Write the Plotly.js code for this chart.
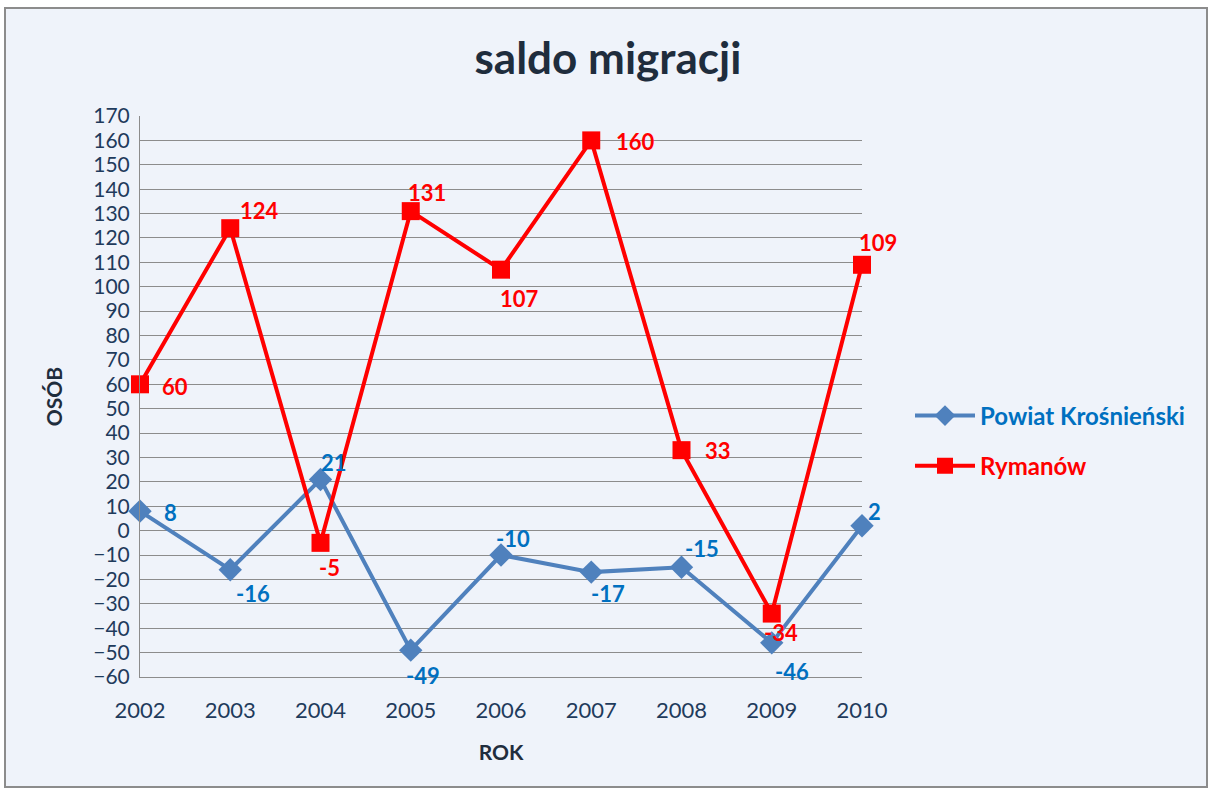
<!DOCTYPE html>
<html><head><meta charset="utf-8">
<script src="https://cdn.plot.ly/plotly-3.0.1.min.js"></script>
<style>html,body{margin:0;padding:0;background:#fff}#c{width:1211px;height:789px}</style>
</head><body><div id="c"></div>
<script>
var years = [2002, 2003, 2004, 2005, 2006, 2007, 2008, 2009, 2010];
var powiat = [8, -16, 21, -49, -10, -17, -15, -46, 2];
var rymanow = [60, 124, -5, 131, 107, 160, 33, -34, 109];

// label offsets in pixels (style only): [dx, dy(down positive)]
var powiatOff = [[30,1],[23,24],[13,-17],[12,25],[12,-17],[17,21],[20,-19],[20,29],[12,-14]];
var rymanowOff = [[35,2],[29,-18],[9,25],[16,-19],[18,29],[44,1],[36,0],[9,19],[16,-22]];

var F = 'Lato, "Open Sans", sans-serif';
var L = 140, R = 862, T = 116, B = 677;
function px2x(p){return (p-L)/(R-L);}
function py2y(p){return (B-p)/(B-T);}

var traces = [
 {x: years, y: powiat, name: 'Powiat Krośnieński', mode: 'lines+markers', legendgroup: 'a',
  line: {color: '#4F81BD', width: 4}, marker: {symbol: 'diamond', size: 18, color: '#4F81BD'}, cliponaxis: false},
 {x: years, y: rymanow, name: 'Rymanów', mode: 'lines+markers', legendgroup: 'b',
  line: {color: '#FF0000', width: 4}, marker: {symbol: 'square', size: 18, color: '#FF0000'}, cliponaxis: false}
];

var annotations = [];
function addLabels(vals, offs, color){
  vals.forEach(function(v, i){
    annotations.push({x: years[i], y: v, xref: 'x', yref: 'y', text: String(v), showarrow: false,
      xshift: offs[i][0], yshift: -offs[i][1], xanchor: 'center', yanchor: 'middle',
      font: {family: F, size: 22, color: color, weight: 700}});
  });
}
addLabels(powiat, powiatOff, '#0070C0');
addLabels(rymanow, rymanowOff, '#FF0000');

var layout = {
 width: 1211, height: 789,
 margin: {l: L, r: 1211 - R, t: T, b: 789 - B},
 paper_bgcolor: '#FFFFFF', plot_bgcolor: 'rgba(0,0,0,0)',
 font: {family: F, color: '#1F2D3D'},
 title: {text: '<b>saldo migracji</b>', font: {family: F, size: 44, color: '#1F2D3D'},
   xref: 'container', x: 0.502, xanchor: 'center', yref: 'container', y: 0.926, yanchor: 'middle'},
 xaxis: {range: [2002, 2010], tickvals: years, ticktext: years.map(String), showgrid: false,
   zeroline: false, showline: true, linecolor: '#8C8C8C', linewidth: 1, ticks: '',
   tickfont: {family: F, size: 22, color: '#1F3B5C'}, ticklabelstandoff: 14,
   title: {text: '<b>ROK</b>', font: {family: F, size: 21, color: '#1F2D3D'}, standoff: 22}},
 yaxis: {range: [-60, 170], dtick: 10, tick0: 0, showgrid: true, gridcolor: '#8C8C8C', gridwidth: 1,
   zeroline: false, showline: true, linecolor: '#8C8C8C', linewidth: 1, ticks: '',
   tickfont: {family: F, size: 21, color: '#1F3B5C'}, ticklabelstandoff: 5,
   title: {text: '<b>OSÓB</b>', font: {family: F, size: 21, color: '#1F2D3D'}, standoff: 24}},
 legend: {x: px2x(910), y: py2y(441), xanchor: 'left', yanchor: 'middle', bgcolor: 'rgba(0,0,0,0)',
   font: {family: F, size: 24, weight: 700}, tracegroupgap: 16, itemwidth: 60},
 annotations: annotations,
 shapes: [{type: 'rect', xref: 'paper', yref: 'paper', layer: 'below',
   x0: px2x(5), x1: px2x(1207), y0: py2y(787), y1: py2y(8),
   fillcolor: '#EFF3FA', line: {color: '#8C8C8C', width: 2}}],
 showlegend: true
};
Plotly.newPlot('c', traces, layout, {displayModeBar: false, staticPlot: true}).then(function(){
  var items = document.querySelectorAll('.legendtext');
  if (items[0]) items[0].style.fill = '#0070C0';
  if (items[1]) items[1].style.fill = '#FF0000';
});
</script></body></html>
